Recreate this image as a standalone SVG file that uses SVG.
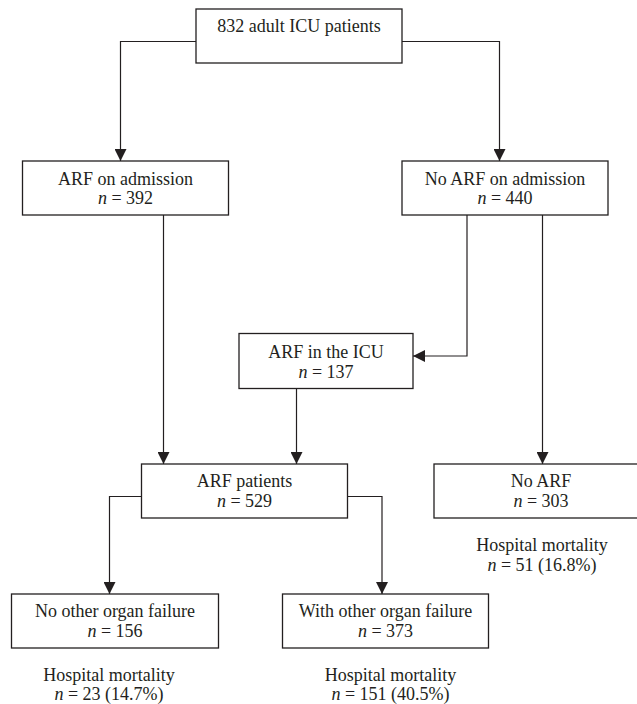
<svg xmlns="http://www.w3.org/2000/svg" width="637" height="704" viewBox="0 0 637 704">
<style>
.box{fill:#fff;stroke:#231f20;stroke-width:1.3}
.t{font-family:"Liberation Serif","Times New Roman",serif;font-size:18px;fill:#231f20;text-anchor:middle}
.i{font-style:italic}
.c{fill:none;stroke:#231f20;stroke-width:1.2;marker-end:url(#ah)}
</style>
<defs>
<marker id="ah" markerUnits="userSpaceOnUse" markerWidth="12" markerHeight="12" viewBox="0 0 12 12" refX="12" refY="6" orient="auto">
<path d="M0,0 L12,6 L0,12 z" fill="#231f20"/>
</marker>
</defs>
<rect width="637" height="704" fill="#fff"/>
<g id="connectors">
<path class="c" d="M196,41.5 H120.5 V161"/>
<path class="c" d="M402,41.5 H499.5 V161"/>
<path class="c" d="M163.5,215 V464"/>
<path class="c" d="M467,215 V356 H413"/>
<path class="c" d="M296.5,388.5 V464"/>
<path class="c" d="M542.5,215 V464"/>
<path class="c" d="M141.5,496.5 H109.5 V594"/>
<path class="c" d="M347.5,496.5 H382 V594"/>
</g>
<g id="n_all">
<rect class="box" x="196" y="9" width="206" height="54"/>
<text class="t" x="299" y="32">832 adult ICU patients</text>
</g>
<g id="n_arf_adm">
<rect class="box" x="22.5" y="161" width="206" height="54"/>
<text class="t" x="125.5" y="184.5">ARF on admission</text>
<text class="t" x="125.5" y="203.5"><tspan class="i">n</tspan> = 392</text>
</g>
<g id="n_noarf_adm">
<rect class="box" x="402" y="161" width="206" height="54"/>
<text class="t" x="505" y="184.5">No ARF on admission</text>
<text class="t" x="505" y="203.5"><tspan class="i">n</tspan> = 440</text>
</g>
<g id="n_arf_icu">
<rect class="box" x="239" y="333.5" width="174" height="55"/>
<text class="t" x="326" y="357.5">ARF in the ICU</text>
<text class="t" x="326" y="378"><tspan class="i">n</tspan> = 137</text>
</g>
<g id="n_arf_pat">
<rect class="box" x="141.5" y="464" width="206" height="54"/>
<text class="t" x="244.5" y="486.5">ARF patients</text>
<text class="t" x="244.5" y="506.5"><tspan class="i">n</tspan> = 529</text>
</g>
<g id="n_noarf">
<rect class="box" x="434" y="464" width="214" height="54"/>
<text class="t" x="541" y="486.5">No ARF</text>
<text class="t" x="541" y="506.5"><tspan class="i">n</tspan> = 303</text>
</g>
<g id="n_no_other">
<rect class="box" x="11.5" y="594" width="207" height="54"/>
<text class="t" x="115" y="616.5">No other organ failure</text>
<text class="t" x="115" y="636.5"><tspan class="i">n</tspan> = 156</text>
</g>
<g id="n_with_other">
<rect class="box" x="282.5" y="594" width="206" height="54"/>
<text class="t" x="385.5" y="616.5">With other organ failure</text>
<text class="t" x="385.5" y="636.5"><tspan class="i">n</tspan> = 373</text>
</g>
<g id="mort_noarf">
<text class="t" x="542" y="551">Hospital mortality</text>
<text class="t" x="542" y="571"><tspan class="i">n</tspan> = 51 (16.8%)</text>
</g>
<g id="mort_no_other">
<text class="t" x="109" y="681">Hospital mortality</text>
<text class="t" x="109" y="700"><tspan class="i">n</tspan> = 23 (14.7%)</text>
</g>
<g id="mort_with_other">
<text class="t" x="390.5" y="681">Hospital mortality</text>
<text class="t" x="390.5" y="700"><tspan class="i">n</tspan> = 151 (40.5%)</text>
</g>
</svg>
